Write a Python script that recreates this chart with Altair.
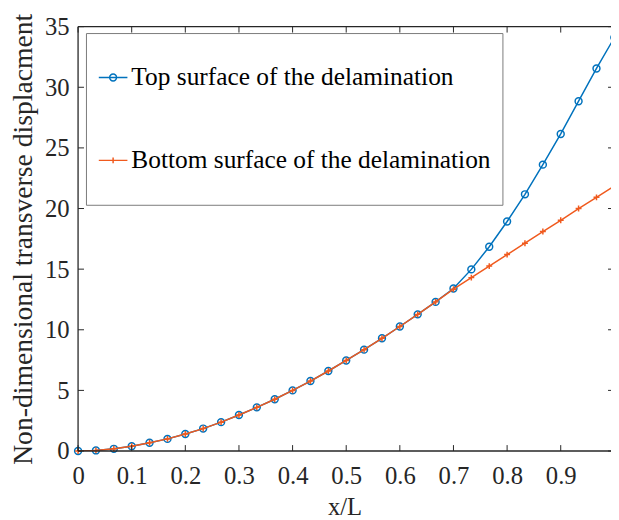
import altair as alt
import pandas as pd

# ---------------- data ----------------
x_vals = [0.0, 0.0333, 0.0667, 0.1, 0.1333, 0.1667, 0.2, 0.2333, 0.2667, 0.3,
          0.3333, 0.3667, 0.4, 0.4333, 0.4667, 0.5, 0.5333, 0.5667, 0.6, 0.6333,
          0.6667, 0.7, 0.7333, 0.7667, 0.8, 0.8333, 0.8667, 0.9, 0.9333, 0.9667, 1.0]
top_vals = [0.0, 0.05, 0.18, 0.40, 0.68, 1.00, 1.40, 1.85, 2.38, 2.97,
            3.60, 4.27, 5.00, 5.77, 6.60, 7.47, 8.36, 9.30, 10.27, 11.27,
            12.30, 13.40, 14.98, 16.85, 18.93, 21.17, 23.62, 26.15, 28.85, 31.55, 34.10]
bottom_vals = [0.0, 0.05, 0.18, 0.40, 0.68, 1.00, 1.40, 1.85, 2.38, 2.97,
               3.60, 4.27, 5.00, 5.77, 6.60, 7.47, 8.36, 9.30, 10.27, 11.27,
               12.30, 13.35, 14.30, 15.25, 16.20, 17.14, 18.10, 19.03, 20.00, 20.92, 21.85]
series_names = ["Top surface of the delamination", "Bottom surface of the delamination"]
x_ticks = [0, 0.1, 0.2, 0.3, 0.4, 0.5, 0.6, 0.7, 0.8, 0.9]
y_ticks = [0, 5, 10, 15, 20, 25, 30, 35]
x_visible_max = 0.99375   # the right edge of the figure cuts the axes just short of x/L = 1

# ---------------- styling ----------------
BLUE = "#0072BD"
ORANGE = "#F05A1E"
AX = "#262626"
FONT = "Liberation Serif"
W, H = 540, 430
TL = 6  # inward tick length

PLUS = "M-1,0L1,0M0,-1L0,1"
LEG_TOP = ("M-1,0L1,0M0.24,0A0.24,0.24,0,1,1,-0.24,0A0.24,0.24,0,1,1,0.24,0")
LEG_BOT = "M-1,0L1,0M0,-0.2L0,0.2"

df = pd.DataFrame({
    "x": x_vals + x_vals,
    "y": top_vals + bottom_vals,
    "series": [series_names[0]] * len(x_vals) + [series_names[1]] * len(x_vals),
})
top_df = df[df["series"] == series_names[0]]
bot_df = df[df["series"] == series_names[1]]

xs = alt.Scale(domain=[0, x_visible_max], nice=False, zero=False)
ys = alt.Scale(domain=[0, 35], nice=False, zero=False)

axis_style = dict(labelFont=FONT, titleFont=FONT, labelColor=AX, titleColor=AX,
                  titleFontWeight="normal", ticks=False, tickSize=0, domain=False,
                  grid=False, labelFlush=False)
x_axis = alt.Axis(values=x_ticks, format="~g", title="x/L", labelPadding=13, titlePadding=6,
                  labelFontSize=25, titleFontSize=25, **axis_style)
y_axis = alt.Axis(values=y_ticks, title="Non-dimensional transverse displacment",
                  labelPadding=9, titlePadding=7, labelFontSize=25, titleFontSize=28,
                  **axis_style)

X = alt.X("x:Q", scale=xs, axis=x_axis)
Y = alt.Y("y:Q", scale=ys, axis=y_axis)

top_line = alt.Chart(top_df).mark_line(color=BLUE, strokeWidth=1.5, clip=True).encode(x=X, y=Y)
top_pts = alt.Chart(top_df).mark_point(shape="circle", filled=False, color=BLUE,
                                       size=49, strokeWidth=1.5, opacity=1).encode(x=X, y=Y)
bot_line = alt.Chart(bot_df).mark_line(color=ORANGE, strokeWidth=1.5, clip=True).encode(x=X, y=Y)
bot_pts = alt.Chart(bot_df).mark_point(shape=PLUS, filled=False, color=ORANGE,
                                       size=36, strokeWidth=1.5, opacity=1).encode(x=X, y=Y)

leg = alt.Legend(title=None, orient="none", legendX=8, legendY=6.5, padding=12,
                 fillColor="white", strokeColor="#7a7a7a", direction="vertical",
                 symbolSize=841, symbolStrokeWidth=1.5, symbolOpacity=1,
                 labelFont=FONT, labelFontSize=25.7, labelColor="black", labelLimit=600,
                 labelOffset=3, rowPadding=18, clipHeight=66)

legend_layer = alt.Chart(df).mark_point(filled=False, opacity=0, size=841, strokeWidth=1.5,
                                        clip=True).encode(
    x=X, y=Y,
    color=alt.Color("series:N", scale=alt.Scale(domain=series_names, range=[BLUE, ORANGE]), legend=leg),
    shape=alt.Shape("series:N", scale=alt.Scale(domain=series_names, range=[LEG_TOP, LEG_BOT]), legend=leg),
)

# axes frame (left, top, bottom; the right side lies beyond the figure edge)
frame_df = pd.DataFrame({"x": [0]})
frame_left = alt.Chart(frame_df).mark_rule(color=AX, strokeWidth=1.3).encode(
    x=alt.value(0), y=alt.value(0), y2=alt.value(H))
frame_top = alt.Chart(frame_df).mark_rule(color=AX, strokeWidth=1.3).encode(
    x=alt.value(0), x2=alt.value(W), y=alt.value(0))
frame_bottom = alt.Chart(frame_df).mark_rule(color=AX, strokeWidth=1.3).encode(
    x=alt.value(0), x2=alt.value(W), y=alt.value(H))

xt_df = pd.DataFrame({"x": x_ticks})
yt_df = pd.DataFrame({"y": y_ticks})
xt_bottom = alt.Chart(xt_df).mark_rule(color=AX, strokeWidth=1).encode(
    x=X, y=alt.value(H), y2=alt.value(H - TL))
xt_top = alt.Chart(xt_df).mark_rule(color=AX, strokeWidth=1).encode(
    x=X, y=alt.value(0), y2=alt.value(TL))
yt_left = alt.Chart(yt_df).mark_rule(color=AX, strokeWidth=1).encode(
    y=Y, x=alt.value(0), x2=alt.value(TL))
yt_right = alt.Chart(yt_df).mark_rule(color=AX, strokeWidth=1).encode(
    y=Y, x=alt.value(W), x2=alt.value(W - 3))

chart = alt.layer(
    top_line, top_pts, bot_line, bot_pts, legend_layer,
    frame_left, frame_top, frame_bottom,
    xt_bottom, xt_top, yt_left, yt_right,
).properties(
    width=W, height=H, background="white",
    autosize=alt.AutoSizeParams(type="none"),
    padding={"left": 71, "top": 15.5, "right": 0, "bottom": 66},
).configure_view(
    stroke=None,
)

chart.save("out.html", embed_options={"renderer": "svg", "actions": False})
